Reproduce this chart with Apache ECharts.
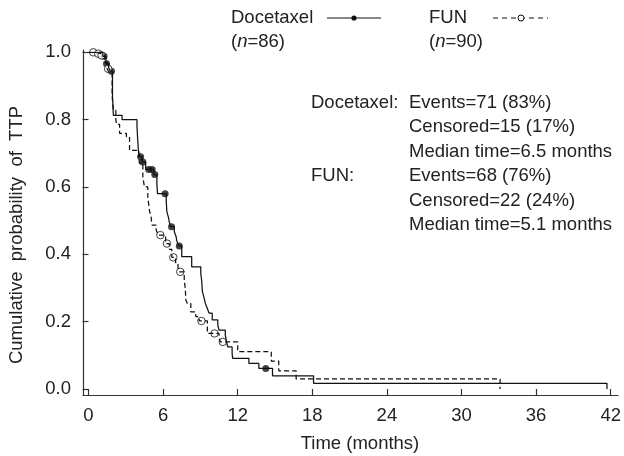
<!DOCTYPE html>
<html>
<head>
<meta charset="utf-8">
<script src="https://cdn.jsdelivr.net/npm/echarts@6/dist/echarts.min.js"></script>
<style>
html, body { margin: 0; padding: 0; background: #fff; }
#chart { width: 624px; height: 456px; }
</style>
</head>
<body>
<div id="chart"></div>
<script>
// Kaplan-Meier steps: time (months) and survival after each drop
var docTimes = [0, 1.15, 1.4, 1.62, 1.75, 1.93, 1.97, 2.0, 2.7, 3.9, 3.95, 4.0, 4.1, 4.3, 4.6, 5.25, 5.5, 5.55,
    6.25, 6.3, 6.42, 6.5, 6.6, 6.9, 7.05, 7.1, 7.25, 7.5, 8.3, 9.03, 9.1, 9.16, 9.3, 9.4, 9.55, 9.7, 9.95,
    10.4, 10.5, 11.0, 11.1, 11.2, 11.55, 11.6, 12.9, 13.7, 14.8, 18.1, 41.7];
var docSurv = [1, 0.988, 0.966, 0.955, 0.944, 0.87, 0.84, 0.813, 0.80, 0.78, 0.745, 0.715, 0.69, 0.674, 0.652, 0.637, 0.61, 0.58,
    0.56, 0.527, 0.511, 0.496, 0.482, 0.467, 0.452, 0.44, 0.425, 0.393, 0.363, 0.343, 0.323, 0.29, 0.27, 0.254, 0.24, 0.225, 0.205,
    0.19, 0.175, 0.16, 0.14, 0.125, 0.105, 0.091, 0.076, 0.061, 0.039, 0.017, 0];
var docCensor = [1.25, 1.45, 1.85, 4.19, 4.37, 4.85, 5.12, 5.33, 6.16, 6.68, 7.3, 14.26];

var funTimes = [0, 0.7, 1.0, 1.3, 1.5, 1.65, 1.9, 2.0, 2.2, 2.25, 2.5, 3.05, 3.3, 4.03, 4.1, 4.37, 4.5, 4.77, 4.9, 5.04,
    5.1, 5.44, 5.6, 6.2, 6.5, 6.7, 7.0, 7.2, 7.3, 7.7, 7.78, 7.83, 7.95, 8.23, 8.63, 8.9, 9.56, 10.5, 10.6,
    12.0, 14.7, 15.3, 16.7, 33.1];
var funSurv = [1, 0.996, 0.991, 0.97, 0.951, 0.94, 0.87, 0.828, 0.80, 0.786, 0.759, 0.749, 0.709, 0.69, 0.67, 0.63, 0.60, 0.571, 0.53, 0.51,
    0.487, 0.472, 0.457, 0.432, 0.415, 0.391, 0.375, 0.36, 0.348, 0.323, 0.30, 0.264, 0.254, 0.229, 0.215, 0.202, 0.165, 0.152, 0.14,
    0.111, 0.083, 0.054, 0.030, 0];
var funCensor = [0.38, 0.78, 1.05, 1.58, 5.78, 6.31, 6.82, 7.38, 9.08, 10.14, 10.8];

var statsLeft = ['Docetaxel:', '', '', 'FUN:', '', ''];
var statsRight = ['Events=71 (83%)', 'Censored=15 (17%)', 'Median time=6.5 months',
    'Events=68 (76%)', 'Censored=22 (24%)', 'Median time=5.1 months'];

var FONT = '"Liberation Sans", Arial, sans-serif';
var FS = 18.5;
var INK = '#222';

function pairs(t, s) {
    return t.map(function (v, i) { return [v, s[i]]; });
}
// value of the step curve at a given time
function survAt(t, s, time) {
    var v = s[0];
    for (var i = 0; i < t.length; i++) {
        if (t[i] <= time) v = s[i];
    }
    return v;
}
function censorPts(times, t, s) {
    return times.map(function (c) { return [c, survAt(t, s, c)]; });
}
function txt(x, y, str, extra) {
    var st = { text: str, font: FS + 'px ' + FONT, fill: INK, verticalAlign: 'middle' };
    for (var k in extra) st[k] = extra[k];
    return { type: 'text', x: x, y: y, style: st };
}

var chart = echarts.init(document.getElementById('chart'), null, { renderer: 'canvas' });

var labelStyle = { color: INK, fontSize: FS, fontFamily: FONT };
var italicN = { rich: { i: { fontStyle: 'italic', fontSize: FS, fontFamily: FONT, fill: INK } } };

var graphics = [];
// legend
graphics.push(
    txt(231, 18, 'Docetaxel'),
    txt(231, 42, '({i|n}=86)', italicN),
    { type: 'line', shape: { x1: 327, y1: 18, x2: 381, y2: 18 }, style: { stroke: '#111', lineWidth: 1.2 } },
    { type: 'circle', shape: { cx: 354, cy: 18, r: 2.6 }, style: { fill: '#111' } },
    txt(429, 18, 'FUN'),
    txt(429, 42, '({i|n}=90)', italicN),
    { type: 'line', shape: { x1: 493, y1: 18, x2: 548, y2: 18 }, style: { stroke: '#111', lineWidth: 1.2, lineDash: [5, 4] } },
    { type: 'circle', shape: { cx: 521, cy: 18, r: 3 }, style: { fill: '#fff', stroke: '#111', lineWidth: 1 } }
);
// summary block
for (var i = 0; i < statsRight.length; i++) {
    var yy = 103 + i * 24.4;
    if (statsLeft[i]) graphics.push(txt(311, yy, statsLeft[i]));
    graphics.push(txt(409, yy, statsRight[i]));
}
// axis titles
graphics.push(
    txt(360, 444, 'Time (months)', { align: 'center' }),
    { type: 'text', x: 17, y: 235, rotation: Math.PI / 2,
      style: { text: 'Cumulative  probability  of  TTP', font: FS + 'px ' + FONT, fill: INK, align: 'center', verticalAlign: 'middle' } }
);

var option = {
    animation: false,
    backgroundColor: '#fff',
    grid: [
        { left: 88.5, right: 9, top: 52.3, bottom: 67 },
        { left: 83, right: 6, top: 50, bottom: 61 }
    ],
    xAxis: [
        {
            gridIndex: 0, type: 'value', min: 0, max: 42, interval: 6, offset: 6,
            axisLine: { show: false },
            axisTick: { show: true, length: 6, lineStyle: { color: '#333', width: 1.2 } },
            axisLabel: Object.assign({ margin: 11 }, labelStyle),
            splitLine: { show: false }
        },
        {
            gridIndex: 1, type: 'value', min: 0, max: 1,
            axisLine: { show: true, onZero: false, lineStyle: { color: '#333', width: 1.2 } },
            axisTick: { show: false }, axisLabel: { show: false }, splitLine: { show: false }
        }
    ],
    yAxis: [
        {
            gridIndex: 0, type: 'value', min: 0, max: 1, interval: 0.2, offset: 5.5,
            axisLine: { show: false },
            axisTick: { show: true, length: 6, lineStyle: { color: '#333', width: 1.2 } },
            axisLabel: Object.assign({ margin: 12, formatter: function (v) { return v.toFixed(1); } }, labelStyle),
            splitLine: { show: false }
        },
        {
            gridIndex: 1, type: 'value', min: 0, max: 1,
            axisLine: { show: true, onZero: false, lineStyle: { color: '#333', width: 1.2 } },
            axisTick: { show: false }, axisLabel: { show: false }, splitLine: { show: false }
        }
    ],
    series: [
        {
            name: 'Docetaxel', type: 'line', step: 'end', xAxisIndex: 0, yAxisIndex: 0,
            showSymbol: false, data: pairs(docTimes, docSurv),
            lineStyle: { color: '#111', width: 1.25 }
        },
        {
            name: 'FUN', type: 'line', step: 'end', xAxisIndex: 0, yAxisIndex: 0,
            showSymbol: false, data: pairs(funTimes, funSurv),
            lineStyle: { color: '#111', width: 1.25, type: [5, 3] }
        },
        {
            name: 'Docetaxel censored', type: 'scatter', xAxisIndex: 0, yAxisIndex: 0,
            symbol: 'circle', symbolSize: 7, data: censorPts(docCensor, docTimes, docSurv),
            itemStyle: { color: '#111' }
        },
        {
            name: 'FUN censored', type: 'scatter', xAxisIndex: 0, yAxisIndex: 0,
            symbol: 'circle', symbolSize: 7.5, data: censorPts(funCensor, funTimes, funSurv),
            itemStyle: { color: '#fff', borderColor: '#111', borderWidth: 1 }
        }
    ],
    graphic: graphics
};

chart.setOption(option);
</script>
</body>
</html>
